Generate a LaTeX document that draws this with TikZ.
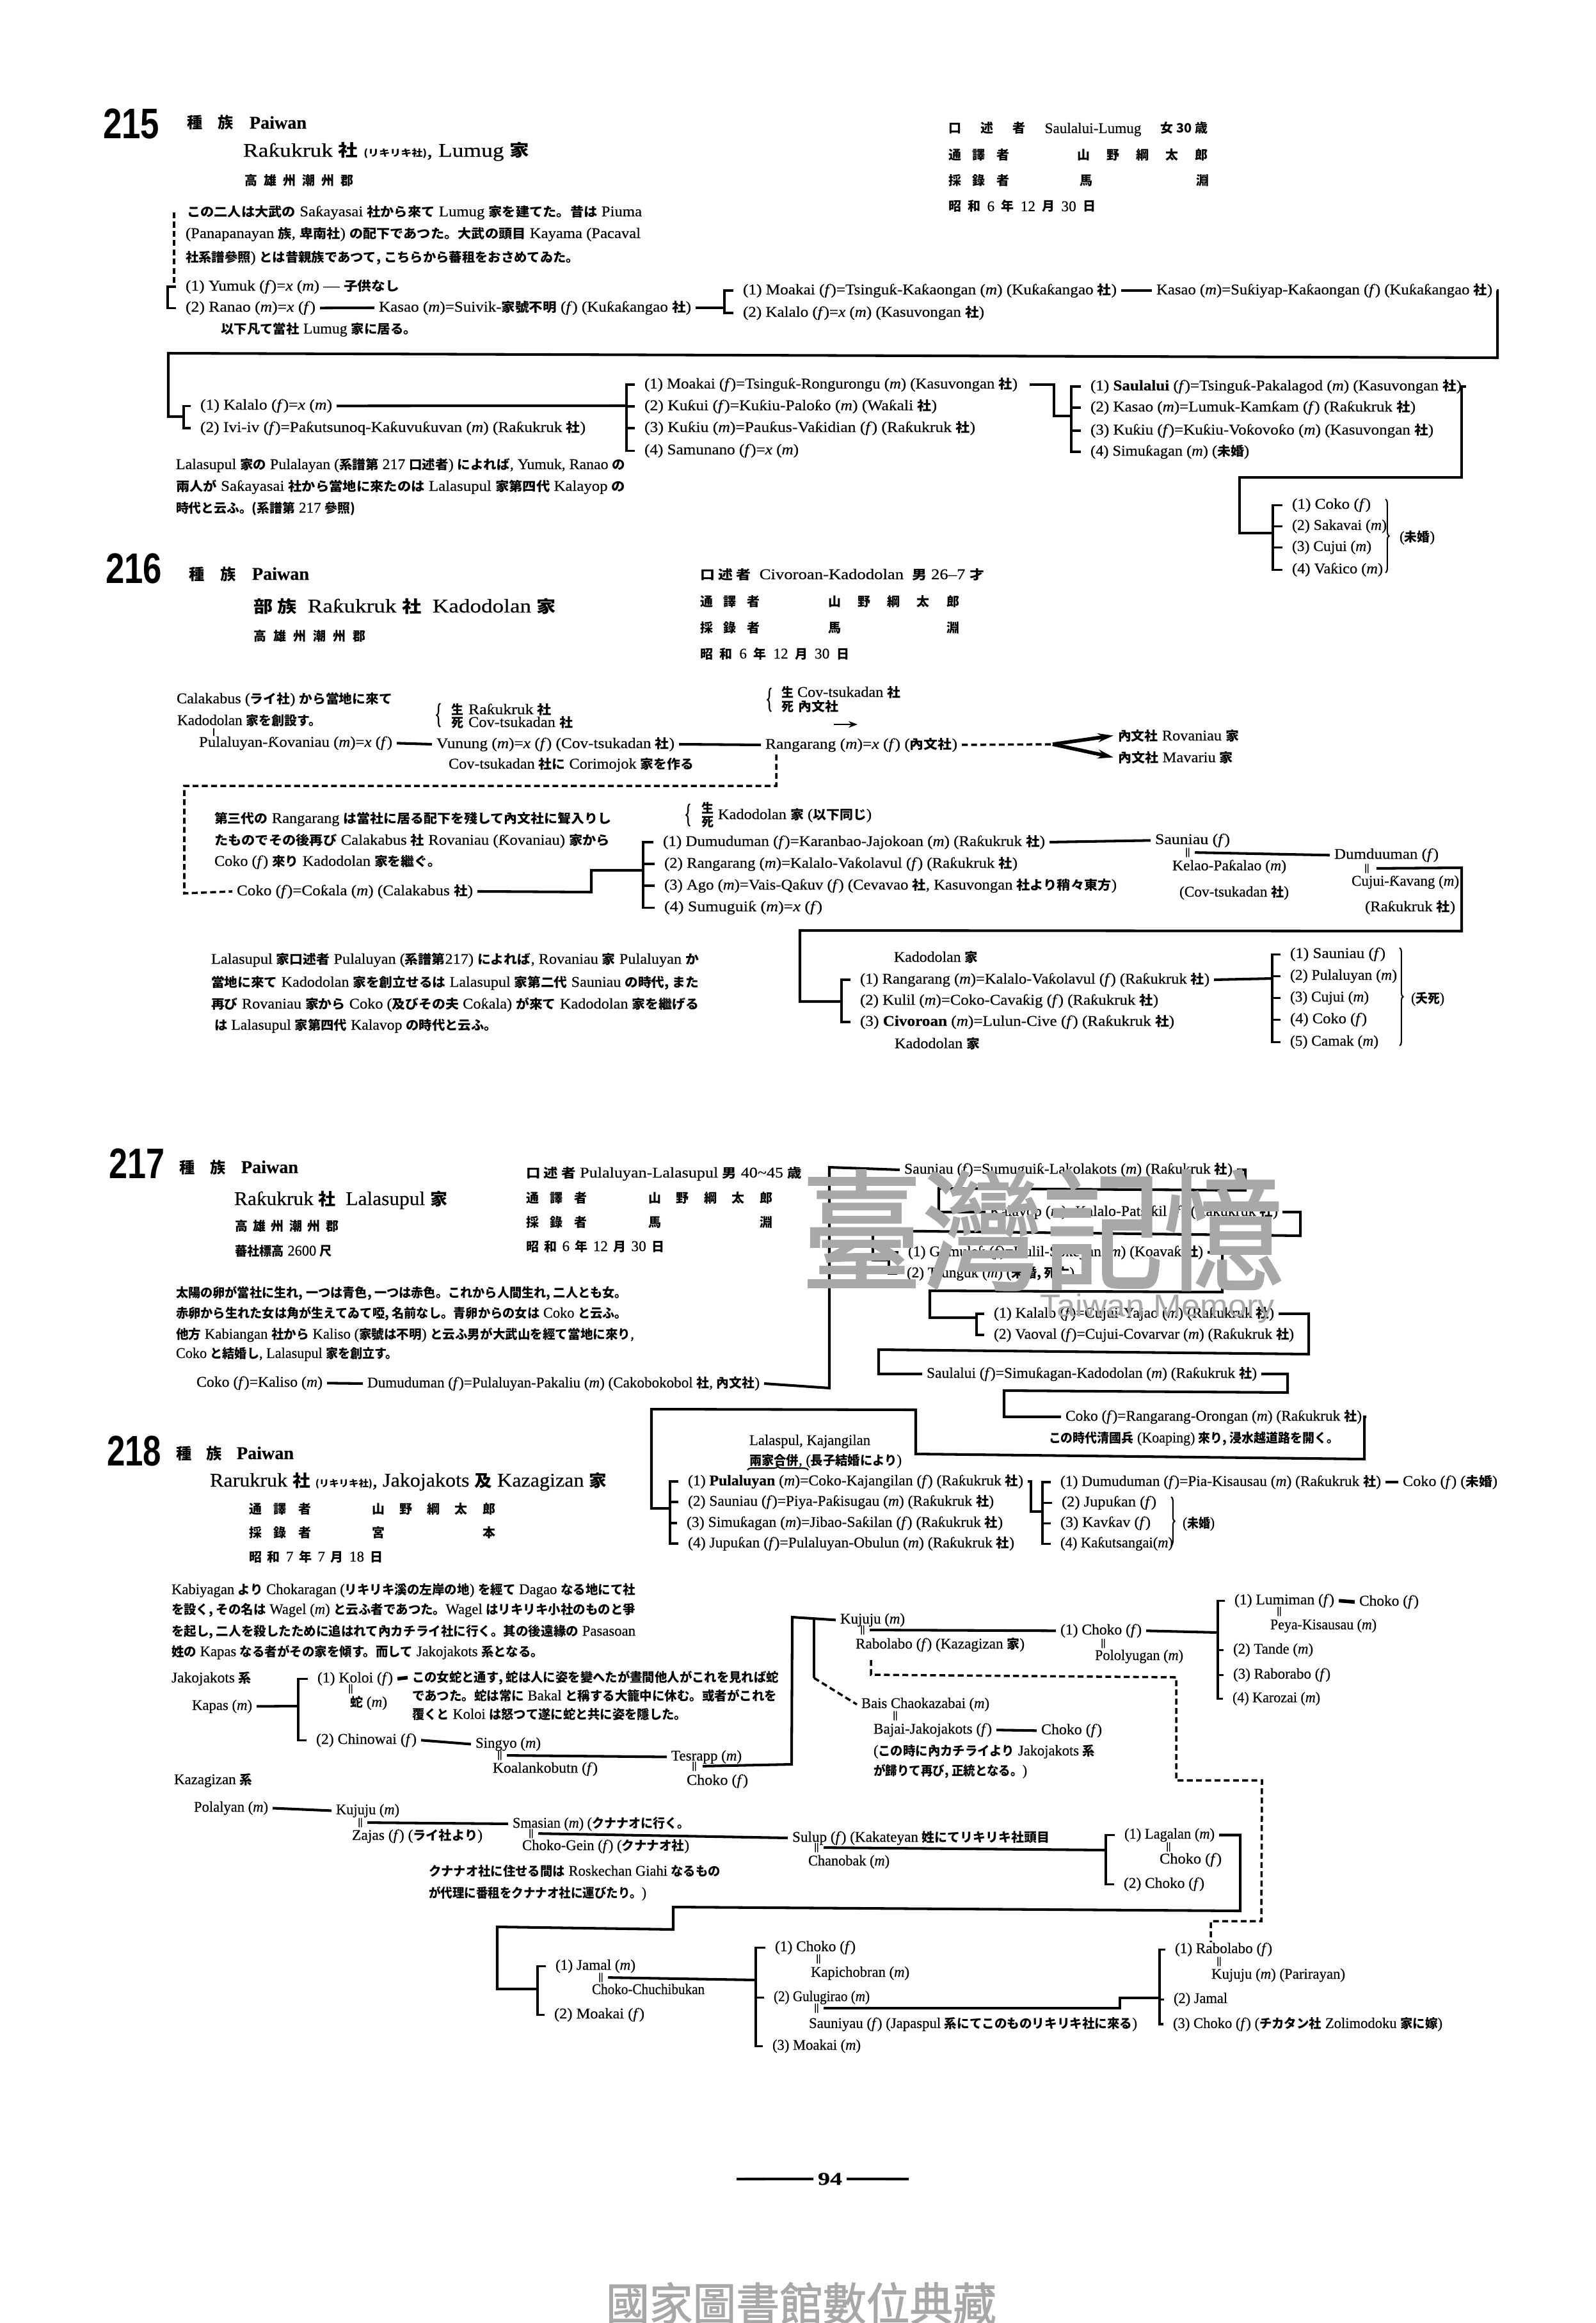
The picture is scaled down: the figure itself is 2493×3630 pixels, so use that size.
\documentclass[tikz,border=0pt]{standalone}
\usepackage{graphicx}
\usepackage{fontspec}
\usetikzlibrary{arrows.meta,decorations.pathreplacing}
\setmainfont{Liberation Serif}[FakeBold=0.5]
\newfontfamily\sansb{Liberation Sans}
\newfontfamily\cjf{Noto Sans CJK JP}[Scale=0.86]
\newfontfamily\cjw{Noto Sans CJK TC}[FakeBold=1.5]
\newcommand\cj[1]{{\cjf\bfseries #1}}
\newcommand\Fe{\textit{f}}
\newcommand\Ma{\textit{m}}
\newcommand\Xx{\textit{x}}
\newcommand\szA{\fontsize{6.6pt}{8pt}\selectfont}
\newcommand\szB{\fontsize{8.6pt}{10pt}\selectfont}
\newcommand\szC{\fontsize{8pt}{10pt}\selectfont}
\newcommand\szS{\fontsize{4.8pt}{6pt}\selectfont}
\newlength\pxl \setlength\pxl{0.01cm}
\definecolor{wm}{gray}{0.66}
\tikzset{
 lbl/.style={anchor=base west,inner sep=0pt,outer xsep=2pt,font=\szA,text=black},
 cn/.style={draw=black,line width=1.15pt},
 fromdbl/.style={cn,shorten <=2pt},
 brk/.style={draw=black,line width=.95pt,shorten <=2.2pt},
 dsh/.style={draw=black,line width=1pt,dash pattern=on 2.6pt off 1.5pt},
 brc/.style={draw=black,line width=.6pt,decorate,decoration={brace,amplitude=1.6pt}},
 dbl/.style={inner sep=0pt,font=\fontsize{4.5pt}{6pt}\selectfont\bfseries,text=black}
}
\newcommand\Tx[5]{\node[lbl] (#1) at (#2,{-(#3+8)}) {\resizebox{\dimexpr\numexpr#4-#2\relax\pxl\relax}{\height}{#5}};}
\newcommand\Tb[5]{\node[lbl,font=\szB] (#1) at (#2,{-(#3+10)}) {\resizebox{\dimexpr\numexpr#4-#2\relax\pxl\relax}{\height}{#5}};}
\newcommand\Ts[5]{\node[lbl] (#1) at (#2,{-(#3+8)}) {\makebox[\dimexpr\numexpr#4-#2\relax\pxl\relax][s]{#5}};}
\newcommand\HN[5]{\node[lbl,font=\sansb\bfseries\fontsize{19pt}{20pt}\selectfont] (#1) at (#2,{-(#3+24)}) {\resizebox{\dimexpr\numexpr#4-#2\relax\pxl\relax}{\height}{#5}};}
\newcommand\Hd[4]{\node[lbl,font=\szC] (#1) at (#2,{-(#3+9)}) {\makebox[\dimexpr\numexpr#4-#2\relax\pxl\relax][s]{\cj{種}\hfill\cj{族}\hfill\textbf{Paiwan}}};}
\newcommand\Dbl[3]{\node[dbl] (#1) at (#2,-#3) {||};}
\newcommand\Gao{\cj{高}\hfill\cj{雄}\hfill\cj{州}\hfill\cj{潮}\hfill\cj{州}\hfill\cj{郡}}
\newcommand\Yama{\cj{山}\hfill\cj{野}\hfill\cj{綱}\hfill\cj{太}\hfill\cj{郎}}
\newcommand\Br[4]{\coordinate (#1) at (#2,0);\draw[brk,shorten >=2.2pt] (#3.west) -- (#3.west -| #1) -- (#4.west -| #1) -- (#4.west);}
\newcommand\Tk[2]{\draw[brk] (#2.west) -- (#2.west -| #1);}
\begin{document}
\begin{tikzpicture}[x=0.01cm,y=0.01cm]
\useasboundingbox (0,0) rectangle (2493,-3630);
\fill[white] (0,0) rectangle (2493,-3630);
%% ---------------- 215
\HN{hA}{154}{192}{242}{215}
\Hd{pA}{285}{192}{472}
\Tb{tA}{373}{235}{820}{Raƙukruk \cj{社} {\szS\cj{(リキリキ社)}}, Lumug \cj{家}}
\Ts{gA}{375}{281}{545}{\Gao}
\Ts{ia1}{1475}{200}{1880}{\cj{口}\hfill\cj{述}\hfill\cj{者}\hfill Saulalui-Lumug\hfill\cj{女 30 歳}}
\Ts{ia2}{1475}{241}{1570}{\cj{通}\hfill\cj{譯}\hfill\cj{者}}
\Ts{ia3}{1676}{241}{1880}{\Yama}
\Ts{ia4}{1475}{282}{1570}{\cj{採}\hfill\cj{錄}\hfill\cj{者}}
\Ts{ia5}{1680}{282}{1882}{\cj{馬}\hfill\cj{淵}}
\Ts{ia6}{1475}{322}{1705}{\cj{昭}\hfill\cj{和}\hfill 6\hfill\cj{年}\hfill 12\hfill\cj{月}\hfill 30\hfill\cj{日}}
\Tx{pa1}{285}{330}{996}{\cj{この二人は大武の} Saƙayasai \cj{社から來て} Lumug \cj{家を建てた。昔は} Piuma}
\Tx{pa2}{283}{364}{994}{(Panapanayan \cj{族}, \cj{卑南社}) \cj{の配下であつた。大武の頭目} Kayama (Pacaval}
\Tx{pa3}{283}{401}{898}{\cj{社系譜參照}) \cj{とは昔親族であつて, こちらから蕃租をおさめてゐた。}}
\Tx{a1}{283}{446}{617}{(1) Yumuk (\Fe)=\Xx{} (\Ma) --- \cj{子供なし}}
\Tx{a2}{283}{479}{486}{(2) Ranao (\Ma)=\Xx{} (\Fe)}
\Tx{a3}{585}{479}{1073}{Kasao (\Ma)=Suivik-\cj{家號不明} (\Fe) (Kuƙaƙangao \cj{社})}
\Tx{a4}{338}{513}{644}{\cj{以下凡て當社} Lumug \cj{家に居る。}}
\Tx{a5}{1154}{452}{1738}{(1) Moakai (\Fe)=Tsinguƙ-Kaƙaongan (\Ma) (Kuƙaƙangao \cj{社})}
\Tx{a6}{1154}{487}{1531}{(2) Kalalo (\Fe)=\Xx{} (\Ma) (Kasuvongan \cj{社})}
\Tx{a7}{1800}{452}{2325}{Kasao (\Ma)=Suƙiyap-Kaƙaongan (\Fe) (Kuƙaƙangao \cj{社})}
\Tx{a8}{306}{632}{512}{(1) Kalalo (\Fe)=\Xx{} (\Ma)}
\Tx{a9}{306}{667}{908}{(2) Ivi-iv (\Fe)=Paƙutsunoq-Kaƙuvuƙuvan (\Ma) (Raƙukruk \cj{社})}
\Tx{a10}{1000}{599}{1583}{(1) Moakai (\Fe)=Tsinguƙ-Rongurongu (\Ma) (Kasuvongan \cj{社})}
\Tx{a11}{1000}{633}{1457}{(2) Kuƙui (\Fe)=Kuƙiu-Paloƙo (\Ma) (Waƙali \cj{社})}
\Tx{a12}{1000}{667}{1517}{(3) Kuƙiu (\Ma)=Pauƙus-Vaƙidian (\Fe) (Raƙukruk \cj{社})}
\Tx{a13}{1000}{702}{1241}{(4) Samunano (\Fe)=\Xx{} (\Ma)}
\Tx{a14}{1697}{602}{2277}{(1) \textbf{Saulalui} (\Fe)=Tsinguƙ-Pakalagod (\Ma) (Kasuvongan \cj{社})}
\Tx{a15}{1697}{635}{2205}{(2) Kasao (\Ma)=Lumuk-Kamƙam (\Fe) (Raƙukruk \cj{社})}
\Tx{a16}{1697}{671}{2233}{(3) Kuƙiu (\Fe)=Kuƙiu-Voƙovoƙo (\Ma) (Kasuvongan \cj{社})}
\Tx{a17}{1697}{704}{1945}{(4) Simuƙagan (\Ma) (\cj{未婚})}
\Tx{a18}{2012}{787}{2135}{(1) Coko (\Fe)}
\Tx{a19}{2012}{820}{2160}{(2) Sakavai (\Ma)}
\Tx{a20}{2012}{853}{2136}{(3) Cujui (\Ma)}
\Tx{a21}{2012}{888}{2154}{(4) Vaƙico (\Ma)}
\Tx{a22}{2180}{838}{2235}{(\cj{未婚})}
\Tx{pa4}{268}{725}{970}{Lalasupul \cj{家の} Pulalayan (\cj{系譜第} 217 \cj{口述者}) \cj{によれば}, Yumuk, Ranao \cj{の}}
\Tx{pa5}{268}{759}{970}{\cj{兩人が} Saƙayasai \cj{社から當地に來たのは} Lalasupul \cj{家第四代} Kalayop \cj{の}}
\Tx{pa6}{268}{793}{548}{\cj{時代と云ふ。(系譜第} 217 \cj{參照)}}
\coordinate (da0) at (272,-332); \coordinate (da1) at (272,-442);
\draw[dsh] (da0) -- (da1);
\Br{sa1}{262}{a1}{a2}
\draw[cn] (a2.east) -- (a3.west);
\Br{sa2}{1132}{a5}{a6}
\coordinate (ja2) at (1132,-472);
\draw[cn] (a3.east) -| (ja2);
\draw[cn] (a5.east) -- (a7.west);
\coordinate (ca1) at (2340,-559); \coordinate (ca2) at (263,-552); \coordinate (ca3) at (287,-651);
\draw[cn] (a7.east) -| (ca1) -- (ca2) |- (ca3);
\Br{sa3}{287}{a8}{a9}
\Br{sa4}{979}{a10}{a13}\Tk{sa4}{a11}\Tk{sa4}{a12}
\coordinate (ja4) at (979,-634);
\draw[cn] (a8.east) -- (ja4);
\Br{sa5}{1674}{a14}{a17}\Tk{sa5}{a15}\Tk{sa5}{a16}
\coordinate (ca4) at (1647,-650); \coordinate (ca5) at (1674,-650);
\draw[cn,shorten <=3.4pt] (a10.east) -| (ca4) -- (ca5);
\coordinate (ca6) at (2284,-746); \coordinate (ca7) at (1937,-746); \coordinate (ca8) at (1989,-833);
\draw[cn] (a14.east) -| (ca6) -- (ca7) |- (ca8);
\Br{sa6}{1989}{a18}{a21}\Tk{sa6}{a19}\Tk{sa6}{a20}
\coordinate (ba1) at (2165,-780); \coordinate (ba2) at (2165,-895);
\draw[brc] (ba1) -- (ba2);
%% ---------------- 216
\HN{hB}{158}{887}{246}{216}
\Hd{pB}{288}{897}{476}
\Tb{tB}{389}{947}{862}{\cj{部 族} \ Raƙukruk \cj{社} \ Kadodolan \cj{家}}
\Ts{gB}{389}{993}{564}{\Gao}
\Tx{ib1}{1087}{897}{1531}{\cj{口 述 者} \ Civoroan-Kadodolan \ \cj{男} 26--7 \cj{才}}
\Ts{ib2}{1087}{939}{1180}{\cj{通}\hfill\cj{譯}\hfill\cj{者}}
\Ts{ib3}{1287}{939}{1492}{\Yama}
\Ts{ib4}{1087}{980}{1180}{\cj{採}\hfill\cj{錄}\hfill\cj{者}}
\Ts{ib5}{1287}{980}{1492}{\cj{馬}\hfill\cj{淵}}
\Ts{ib6}{1087}{1021}{1320}{\cj{昭}\hfill\cj{和}\hfill 6\hfill\cj{年}\hfill 12\hfill\cj{月}\hfill 30\hfill\cj{日}}
\Tx{b1}{269}{1091}{606}{Calakabus (\cj{ライ社}) \cj{から當地に來て}}
\Tx{b2}{270}{1125}{495}{Kadodolan \cj{家を創設す。}}
\Tx{b3}{304}{1159}{606}{Pulaluyan-Ƙovaniau (\Ma)=\Xx{} (\Fe)}
\Tx{b4}{675}{1161}{1047}{Vunung (\Ma)=\Xx{} (\Fe) (Cov-tsukadan \cj{社})}
\Tx{b5}{1189}{1162}{1489}{Rangarang (\Ma)=\Xx{} (\Fe) (\cj{內文社})}
\Tx{b6}{698}{1108}{717}{\cj{生}}
\Tx{b7}{725}{1108}{855}{Raƙukruk \cj{社}}
\Tx{b8}{698}{1128}{717}{\cj{死}}
\Tx{b9}{725}{1128}{888}{Cov-tsukadan \cj{社}}
\Tx{b10}{694}{1193}{1077}{Cov-tsukadan \cj{社に} Corimojok \cj{家を作る}}
\Tx{b11}{1214}{1081}{1233}{\cj{生}}
\Tx{b12}{1239}{1081}{1400}{Cov-tsukadan \cj{社}}
\Tx{b13}{1214}{1103}{1233}{\cj{死}}
\Tx{b14}{1240}{1103}{1303}{\cj{內文社}}
\Tx{b15}{1740}{1149}{1929}{\cj{內文社} Rovaniau \cj{家}}
\Tx{b16}{1740}{1183}{1920}{\cj{內文社} Mavariu \cj{家}}
\Tx{pb1}{328}{1278}{948}{\cj{第三代の} Rangarang \cj{は當社に居る配下を殘して內文社に聟入りし}}
\Tx{pb2}{328}{1312}{946}{\cj{たものでその後再び} Calakabus \cj{社} Rovaniau (Ƙovaniau) \cj{家から}}
\Tx{pb3}{328}{1345}{682}{Coko (\Fe) \cj{來り} Kadodolan \cj{家を繼ぐ。}}
\Tx{b17}{363}{1391}{732}{Coko (\Fe)=Coƙala (\Ma) (Calakabus \cj{社})}
\Tx{b18}{1089}{1262}{1108}{\cj{生}}
\Tx{b19}{1089}{1283}{1108}{\cj{死}}
\Tx{b20}{1115}{1272}{1355}{Kadodolan \cj{家} (\cj{以下同じ})}
\Tx{b21}{1029}{1314}{1626}{(1) Dumuduman (\Fe)=Karanbao-Jajokoan (\Ma) (Raƙukruk \cj{社})}
\Tx{b22}{1031}{1348}{1583}{(2) Rangarang (\Ma)=Kalalo-Vaƙolavul (\Fe) (Raƙukruk \cj{社})}
\Tx{b23}{1031}{1382}{1738}{(3) Ago (\Ma)=Vais-Qaƙuv (\Fe) (Cevavao \cj{社}, Kasuvongan \cj{社より稍々東方})}
\Tx{b24}{1031}{1416}{1278}{(4) Sumuguiƙ (\Ma)=\Xx{} (\Fe)}
\Tx{b25}{1798}{1311}{1915}{Sauniau (\Fe)}
\Dbl{b26}{1856}{1332}
\Tx{b27}{1825}{1352}{2003}{Kelao-Paƙalao (\Ma)}
\Tx{b28}{1836}{1393}{2007}{(Cov-tsukadan \cj{社})}
\Tx{b29}{2078}{1334}{2241}{Dumduuman (\Fe)}
\Dbl{b30}{2136}{1357}
\Tx{b31}{2105}{1376}{2273}{Cujui-Ƙavang (\Ma)}
\Tx{b32}{2126}{1416}{2267}{(Raƙukruk \cj{社})}
\Tx{b33}{1390}{1495}{1521}{Kadodolan \cj{家}}
\Tx{b34}{1337}{1529}{1883}{(1) Rangarang (\Ma)=Kalalo-Vaƙolavul (\Fe) (Raƙukruk \cj{社})}
\Tx{b35}{1337}{1562}{1803}{(2) Kulil (\Ma)=Coko-Cavaƙig (\Fe) (Raƙukruk \cj{社})}
\Tx{b36}{1337}{1595}{1828}{(3) \textbf{Civoroan} (\Ma)=Lulun-Cive (\Fe) (Raƙukruk \cj{社})}
\Tx{b37}{1391}{1630}{1524}{Kadodolan \cj{家}}
\Tx{b38}{2009}{1489}{2158}{(1) Sauniau (\Fe)}
\Tx{b39}{2009}{1523}{2176}{(2) Pulaluyan (\Ma)}
\Tx{b40}{2009}{1557}{2132}{(3) Cujui (\Ma)}
\Tx{b41}{2009}{1591}{2129}{(4) Coko (\Fe)}
\Tx{b42}{2009}{1626}{2147}{(5) Camak (\Ma)}
\Tx{b43}{2198}{1559}{2250}{(\cj{夭死})}
\Tx{pb4}{323}{1498}{1085}{Lalasupul \cj{家口述者} Pulaluyan (\cj{系譜第}217) \cj{によれば}, Rovaniau \cj{家} Pulaluyan \cj{か}}
\Tx{pb5}{323}{1534}{1085}{\cj{當地に來て} Kadodolan \cj{家を創立せるは} Lalasupul \cj{家第二代} Sauniau \cj{の時代, また}}
\Tx{pb6}{323}{1568}{1085}{\cj{再び} Rovaniau \cj{家から} Coko (\cj{及びその夫} Coƙala) \cj{が來て} Kadodolan \cj{家を繼げる}}
\Tx{pb7}{328}{1601}{770}{\cj{は} Lalasupul \cj{家第四代} Kalavop \cj{の時代と云ふ。}}
\coordinate (db0) at (334,-1138);
\draw[line width=.5pt] (db0) -- (b3.north -| db0);
\draw[cn] (b3.east) -- (b4.west);
\draw[cn] (b4.east) -- (b5.west);
\coordinate (bb1a) at (688,-1099); \coordinate (bb1b) at (688,-1136);
\draw[brc] (bb1b) -- (bb1a);
\coordinate (bb2a) at (1205,-1075); \coordinate (bb2b) at (1205,-1112);
\draw[brc] (bb2b) -- (bb2a);
\coordinate (bb3a) at (1078,-1256); \coordinate (bb3b) at (1078,-1291);
\draw[brc] (bb3b) -- (bb3a);
\coordinate (ar0) at (1303,-1132); \coordinate (ar1) at (1340,-1132);
\draw[-{Stealth[length=4pt]},line width=.5pt] (ar0) -- (ar1);
\coordinate (fk) at (1645,-1163);
\draw[dsh] (b5.east) -- (fk);
\draw[-{Stealth[length=7pt,width=4pt]},line width=1.6pt] (fk) -- (b15.west);
\draw[-{Stealth[length=7pt,width=4pt]},line width=1.6pt] (fk) -- (b16.west);
\coordinate (db1) at (1213,-1228); \coordinate (db3) at (288,-1228); \coordinate (db4) at (288,-1396);
\draw[dsh,shorten <=1pt] (b5.south -| db1) -- (db1) -- (db3) -- (db4) -- (b17.west);
\Br{sb1}{1005}{b21}{b24}\Tk{sb1}{b22}\Tk{sb1}{b23}
\coordinate (cb1) at (924,-1394); \coordinate (cb2) at (1005,-1360);
\draw[cn] (b17.east) -- (cb1) |- (cb2);
\draw[cn] (b21.east) -- (b25.west);
\draw[fromdbl] (b26.east) -- (b29.west);
\coordinate (cb5) at (2284,-1356); \coordinate (cb6) at (2284,-1455); \coordinate (cb7) at (1250,-1454); \coordinate (cb8) at (1315,-1565);
\draw[cn,shorten <=3pt] (b30.east) -- (cb5) -- (cb6) -- (cb7) |- (cb8);
\Br{sb2}{1315}{b34}{b36}
\Br{sb3}{1988}{b38}{b42}\Tk{sb3}{b39}\Tk{sb3}{b40}\Tk{sb3}{b41}
\coordinate (cb9) at (1988,-1529);
\draw[cn] (b34.east) -- (cb9);
\coordinate (bb4a) at (2187,-1481); \coordinate (bb4b) at (2187,-1634);
\draw[brc] (bb4a) -- (bb4b);
%% ---------------- 217
\HN{hC}{163}{1817}{250}{217}
\Hd{pC}{273}{1824}{459}
\Tb{tC}{359}{1873}{692}{Raƙukruk \cj{社} \ Lalasupul \cj{家}}
\Ts{gC}{360}{1915}{522}{\Gao}
\Tx{gC2}{360}{1954}{512}{\cj{蕃社標高} 2600 \cj{尺}}
\Tx{ic1}{815}{1832}{1246}{\cj{口 述 者} Pulaluyan-Lalasupul \cj{男} 40\textasciitilde 45 \cj{歳}}
\Ts{ic2}{815}{1871}{910}{\cj{通}\hfill\cj{譯}\hfill\cj{者}}
\Ts{ic3}{1006}{1871}{1200}{\Yama}
\Ts{ic4}{815}{1909}{910}{\cj{採}\hfill\cj{錄}\hfill\cj{者}}
\Ts{ic5}{1006}{1909}{1200}{\cj{馬}\hfill\cj{淵}}
\Ts{ic6}{815}{1947}{1031}{\cj{昭}\hfill\cj{和}\hfill 6\hfill\cj{年}\hfill 12\hfill\cj{月}\hfill 30\hfill\cj{日}}
\Tx{pc1}{268}{2019}{973}{\cj{太陽の卵が當社に生れ, 一つは青色, 一つは赤色。これから人間生れ, 二人とも女。}}
\Tx{pc2}{268}{2051}{973}{\cj{赤卵から生れた女は角が生えてゐて啞, 名前なし。青卵からの女は} Coko \cj{と云ふ。}}
\Tx{pc3}{268}{2084}{984}{\cj{他方} Kabiangan \cj{社から} Kaliso (\cj{家號は不明}) \cj{と云ふ男が大武山を經て當地に來り},}
\Tx{pc4}{268}{2114}{615}{Coko \cj{と結婚し}, Lalasupul \cj{家を創立す。}}
\Tx{c1}{300}{2159}{497}{Coko (\Fe)=Kaliso (\Ma)}
\Tx{c2}{567}{2160}{1180}{Dumuduman (\Fe)=Pulaluyan-Pakaliu (\Ma) (Cakobokobol \cj{社}, \cj{內文社})}
\Tx{c3}{1406}{1826}{1919}{Sauniau (\Fe)=Sumuguiƙ-Lakolakots (\Ma) (Raƙukruk \cj{社})}
\Tx{c4}{1540}{1892}{1990}{Kalayop (\Ma)=Kalalo-Patsiƙil (\Fe) (Raƙukruk \cj{社})}
\Tx{c5}{1412}{1955}{1873}{(1) Gumuleƙ (\Fe)=Kulil-Soƙeyan (\Ma) (Koavaƙ \cj{社})}
\Tx{c6}{1410}{1988}{1672}{(2) Tsunguƙ (\Ma) (\cj{未婚, 死亡})}
\Tx{c7}{1546}{2051}{1984}{(1) Kalalo (\Fe)=Cujui-Yajao (\Ma) (Raƙukruk \cj{社})}
\Tx{c8}{1546}{2084}{2015}{(2) Vaoval (\Fe)=Cujui-Covarvar (\Ma) (Raƙukruk \cj{社})}
\Tx{c9}{1441}{2145}{1957}{Saulalui (\Fe)=Simuƙagan-Kadodolan (\Ma) (Raƙukruk \cj{社})}
\Tx{c10}{1658}{2212}{2121}{Coko (\Fe)=Rangarang-Orongan (\Ma) (Raƙukruk \cj{社})}
\Tx{c11}{1632}{2246}{2085}{\cj{この時代清國兵} (Koaping) \cj{來り, 浸水越道路を開く。}}
\Tx{c12}{1164}{2250}{1353}{Lalaspul, Kajangilan}
\Tx{c13}{1164}{2281}{1402}{\cj{兩家合併}, (\cj{長子結婚により})}
\Tx{c14}{1068}{2313}{1592}{(1) \textbf{Pulaluyan} (\Ma)=Coko-Kajangilan (\Fe) (Raƙukruk \cj{社})}
\Tx{c15}{1068}{2345}{1546}{(2) Sauniau (\Fe)=Piya-Paƙisugau (\Ma) (Raƙukruk \cj{社})}
\Tx{c16}{1066}{2378}{1560}{(3) Simuƙagan (\Ma)=Jibao-Saƙilan (\Fe) (Raƙukruk \cj{社})}
\Tx{c17}{1068}{2410}{1578}{(4) Jupuƙan (\Fe)=Pulaluyan-Obulun (\Ma) (Raƙukruk \cj{社})}
\Tx{c18}{1650}{2314}{2151}{(1) Dumuduman (\Fe)=Pia-Kisausau (\Ma) (Raƙukruk \cj{社})}
\Tx{c19}{2185}{2314}{2333}{Coko (\Fe) (\cj{未婚})}
\Tx{c20}{1652}{2346}{1800}{(2) Jupuƙan (\Fe)}
\Tx{c21}{1650}{2378}{1791}{(3) Kavƙav (\Fe)}
\Tx{c22}{1650}{2410}{1826}{(4) Kaƙutsangai(\Ma)}
\Tx{c23}{1841}{2379}{1891}{(\cj{未婚})}
\draw[cn] (c1.east) -- (c2.west);
\coordinate (cc1) at (1296,-2169); \coordinate (cc2) at (1296,-1824);
\draw[cn] (c2.east) -- (cc1) -- (cc2) -- (c3.west);
\coordinate (cc3) at (1946,-1860); \coordinate (cc4) at (1467,-1857);
\draw[cn] (c3.east) -| (cc3) -- (cc4) |- (c4.west);
\coordinate (cc5) at (2032,-1931); \coordinate (cc6) at (1364,-1923); \coordinate (cc7) at (1389,-1969);
\draw[cn] (c4.east) -| (cc5) -- (cc6) |- (cc7);
\Br{sc1}{1389}{c5}{c6}
\coordinate (cc8) at (1910,-2019); \coordinate (cc9) at (1453,-2017); \coordinate (cc10) at (1526,-2059);
\draw[cn] (c5.east) -| (cc8) -- (cc9) |- (cc10);
\Br{sc2}{1526}{c7}{c8}
\coordinate (cc11) at (2045,-2116); \coordinate (cc12) at (1373,-2109);
\draw[cn] (c7.east) -| (cc11) -- (cc12) |- (c9.west);
\coordinate (cc13) at (2012,-2176); \coordinate (cc14) at (1569,-2173);
\draw[cn] (c9.east) -| (cc13) -- (cc14) |- (c10.west);
\coordinate (cc15) at (2132,-2280); \coordinate (cc16) at (1431,-2272); \coordinate (cc17) at (1431,-2203); \coordinate (cc18) at (1018,-2202); \coordinate (cc19) at (1047,-2357);
\draw[cn] (c10.east) -| (cc15) -- (cc16) -- (cc17) -- (cc18) |- (cc19);
\Br{sc3}{1047}{c14}{c17}\Tk{sc3}{c15}\Tk{sc3}{c16}
\coordinate (cc20) at (1611,-2316); \coordinate (cc21) at (1629,-2362);
\draw[cn] (c14.east) -| (cc20) |- (cc21);
\Br{sc4}{1629}{c18}{c22}\Tk{sc4}{c20}\Tk{sc4}{c21}
\draw[cn] (c18.east) -- (c19.west);
\coordinate (bc1a) at (1830,-2339); \coordinate (bc1b) at (1830,-2415);
\draw[brc] (bc1a) -- (bc1b);
\coordinate (bc2a) at (1168,-2297); \coordinate (bc2b) at (1263,-2297);
\draw[brc] (bc2a) -- (bc2b);
%% ---------------- 218
\HN{hD}{160}{2266}{245}{218}
\Hd{pD}{268}{2271}{452}
\Tb{tD}{321}{2313}{941}{Rarukruk \cj{社} {\szS\cj{(リキリキ社)}}, Jakojakots \cj{及} Kazagizan \cj{家}}
\Ts{id1}{382}{2357}{479}{\cj{通}\hfill\cj{譯}\hfill\cj{者}}
\Ts{id2}{574}{2357}{767}{\Yama}
\Ts{id3}{382}{2394}{479}{\cj{採}\hfill\cj{錄}\hfill\cj{者}}
\Ts{id4}{574}{2394}{767}{\cj{宮}\hfill\cj{本}}
\Ts{id5}{382}{2432}{591}{\cj{昭}\hfill\cj{和}\hfill 7\hfill\cj{年}\hfill 7\hfill\cj{月}\hfill 18\hfill\cj{日}}
\Tx{pd1}{261}{2483}{986}{Kabiyagan \cj{より} Chokaragan (\cj{リキリキ溪の左岸の地}) \cj{を經て} Dagao \cj{なる地にて社}}
\Tx{pd2}{261}{2514}{986}{\cj{を設く, その名は} Wagel (\Ma) \cj{と云ふ者であつた。}Wagel \cj{はリキリキ小社のものと爭}}
\Tx{pd3}{261}{2548}{986}{\cj{を起し, 二人を殺したために追はれて內カチライ社に行く。其の後遠緣の} Pasasoan}
\Tx{pd4}{261}{2580}{842}{\cj{姓の} Kapas \cj{なる者がその家を傾す。而して} Jakojakots \cj{系となる。}}
\Tx{d1}{261}{2621}{386}{Jakojakots \cj{系}}
\Tx{d2}{293}{2664}{387}{Kapas (\Ma)}
\Tx{d3}{489}{2621}{607}{(1) Koloi (\Fe)}
\Dbl{d4}{548}{2639}
\Tx{d5}{540}{2659}{598}{\cj{蛇} (\Ma)}
\Tx{d6}{637}{2620}{1210}{\cj{この女蛇と通す, 蛇は人に姿を變へたが晝間他人がこれを見れば蛇}}
\Tx{d7}{637}{2649}{1207}{\cj{であつた。蛇は常に} Bakal \cj{と稱する大籠中に休む。或者がこれを}}
\Tx{d8}{637}{2678}{1066}{\cj{覆くと} Koloi \cj{は怒つて遂に蛇と共に姿を隱した。}}
\Tx{d9}{487}{2717}{644}{(2) Chinowai (\Fe)}
\Tx{d10}{736}{2723}{838}{Singyo (\Ma)}
\Dbl{d11}{781}{2743}
\Tx{d12}{763}{2762}{927}{Koalankobutn (\Fe)}
\Tx{d13}{1042}{2743}{1152}{Tesrapp (\Ma)}
\Dbl{d14}{1085}{2760}
\Tx{d15}{1066}{2781}{1162}{Choko (\Fe)}
\Tx{d16}{1306}{2529}{1407}{Kujuju (\Ma)}
\Dbl{d17}{1348}{2547}
\Tx{d18}{1330}{2568}{1594}{Rabolabo (\Fe) (Kazagizan \cj{家})}
\Tx{d19}{1650}{2546}{1777}{(1) Choko (\Fe)}
\Dbl{d20}{1724}{2568}
\Tx{d21}{1704}{2586}{1842}{Pololyugan (\Ma)}
\Tx{d22}{1922}{2499}{2078}{(1) Lumiman (\Fe)}
\Tx{d23}{2117}{2501}{2210}{Choko (\Fe)}
\Dbl{d24}{1999}{2518}
\Tx{d25}{1978}{2538}{2144}{Peya-Kisausau (\Ma)}
\Tx{d26}{1920}{2576}{2045}{(2) Tande (\Ma)}
\Tx{d27}{1920}{2615}{2072}{(3) Raborabo (\Fe)}
\Tx{d28}{1919}{2652}{2056}{(4) Karozai (\Ma)}
\Tx{d29}{1339}{2661}{1539}{Bais Chaokazabai (\Ma)}
\Dbl{d30}{1399}{2681}
\Tx{d31}{1358}{2701}{1543}{Bajai-Jakojakots (\Fe)}
\Tx{d32}{1620}{2702}{1715}{Choko (\Fe)}
\Tx{d33}{1358}{2735}{1704}{(\cj{この時に內カチライより} Jakojakots \cj{系}}
\Tx{d34}{1358}{2766}{1598}{\cj{が歸りて再び, 正統となる。})}
\Tx{d35}{265}{2780}{387}{Kazagizan \cj{系}}
\Tx{d36}{296}{2823}{412}{Polalyan (\Ma)}
\Tx{d37}{518}{2827}{617}{Kujuju (\Ma)}
\Dbl{d38}{563}{2848}
\Tx{d39}{543}{2867}{747}{Zajas (\Fe) (\cj{ライ社より})}
\Tx{d40}{794}{2848}{1070}{Smasian (\Ma) (\cj{クナナオに行く。}}
\Dbl{d41}{830}{2865}
\Tx{d42}{809}{2883}{1070}{Choko-Gein (\Fe) (\cj{クナナオ社})}
\Tx{d43}{1231}{2870}{1633}{Sulup (\Fe) (Kakateyan \cj{姓にてリキリキ社頭目}}
\Dbl{d44}{1276}{2887}
\Tx{d45}{1256}{2907}{1383}{Chanobak (\Ma)}
\Tx{d46}{1750}{2865}{1891}{(1) Lagalan (\Ma)}
\Dbl{d47}{1826}{2886}
\Tx{d48}{1805}{2904}{1902}{Choko (\Fe)}
\Tx{d49}{1749}{2942}{1875}{(2) Choko (\Fe)}
\Tx{d50}{663}{2923}{1119}{\cj{クナナオ社に住せる間は} Roskechan Giahi \cj{なるもの}}
\Tx{d51}{663}{2957}{1003}{\cj{が代理に番租をクナナオ社に運びたり。})}
\Tx{d52}{861}{3070}{986}{(1) Jamal (\Ma)}
\Dbl{d53}{939}{3090}
\Tx{d54}{918}{3108}{1094}{Choko-Chuchibukan}
\Tx{d55}{859}{3146}{1000}{(2) Moakai (\Fe)}
\Tx{d56}{1204}{3041}{1330}{(1) Choko (\Fe)}
\Dbl{d57}{1279}{3061}
\Tx{d58}{1260}{3081}{1414}{Kapichobran (\Ma)}
\Tx{d59}{1202}{3119}{1352}{(2) Gulugirao (\Ma)}
\Dbl{d60}{1276}{3138}
\Tx{d61}{1257}{3161}{1770}{Sauniyau (\Fe) (Japaspul \cj{系にてこのものリキリキ社に來る})}
\Tx{d62}{1200}{3195}{1338}{(3) Moakai (\Ma)}
\Tx{d63}{1829}{3044}{1981}{(1) Rabolabo (\Fe)}
\Dbl{d64}{1905}{3065}
\Tx{d65}{1886}{3084}{2095}{Kujuju (\Ma) (Parirayan)}
\Tx{d66}{1827}{3122}{1911}{(2) Jamal}
\Tx{d67}{1826}{3161}{2247}{(3) Choko (\Fe) (\cj{チカタン社} Zolimodoku \cj{家に嫁})}
\Br{sd1}{466}{d3}{d9}
\coordinate (jd1) at (466,-2666);
\draw[cn] (d2.east) -- (jd1);
\draw[line width=1.6pt] (d3.east) -- (d6.west);
\draw[cn] (d9.east) -- (d10.west);
\draw[fromdbl] (d11.east) -- (d13.west);
\coordinate (cd3) at (1237,-2757); \coordinate (cd4) at (1238,-2527);
\draw[cn,shorten <=2.5pt] (d14.east) -- (cd3) -- (cd4) -- (d16.west);
\coordinate (cd5) at (1272,-2529); \coordinate (cd6) at (1272,-2622);
\draw[cn] (cd5) -- (cd6);
\draw[dsh] (cd6) -- (d29.west);
\draw[fromdbl] (d17.east) -- (d19.west);
\Br{sd2}{1903}{d22}{d28}\Tk{sd2}{d26}\Tk{sd2}{d27}
\coordinate (jd2) at (1903,-2551);
\draw[cn] (d19.east) -- (jd2);
\draw[line width=1.6pt] (d22.east) -- (d23.west);
\draw[cn] (d31.east) -- (d32.west);
\coordinate (de1) at (1361,-2594); \coordinate (de2) at (1361,-2617); \coordinate (de3) at (1838,-2621); \coordinate (de4) at (1838,-2782); \coordinate (de5) at (1972,-2782); \coordinate (de6) at (1971,-3002); \coordinate (de7) at (1892,-3002);
\draw[dsh] (de1) -- (de2) -- (de3) -- (de4) -- (de5) -- (de6) -- (de7) -- (d63.north -| de7);
\draw[cn] (d36.east) -- (d37.west);
\draw[fromdbl] (d38.east) -- (d40.west);
\draw[fromdbl] (d41.east) -- (d43.west);
\coordinate (jd3) at (1728,-2891);
\draw[fromdbl] (d44.east) -- (jd3);
\Br{sd3}{1728}{d46}{d49}
\coordinate (cd11) at (1938,-2986); \coordinate (cd12) at (1052,-2980); \coordinate (cd13) at (1052,-3015); \coordinate (cd14) at (777,-3011); \coordinate (cd15) at (840,-3108);
\draw[cn] (d46.east) -| (cd11) -- (cd12) -- (cd13) -- (cd14) |- (cd15);
\Br{sd4}{840}{d52}{d55}
\coordinate (jd4) at (1181,-3094);
\draw[fromdbl] (d53.east) -- (jd4);
\Br{sd5}{1181}{d56}{d62}\Tk{sd5}{d59}
\coordinate (cd18) at (1750,-3138); \coordinate (cd19) at (1812,-3122);
\draw[fromdbl] (d60.east) -- (cd18) |- (cd19);
\Br{sd6}{1812}{d63}{d67}\Tk{sd6}{d66}
%% ---------------- page number
\node[lbl,font=\szC\bfseries] (pg) at (1271,-3414) {\resizebox{38\pxl}{\height}{94}};
\coordinate (pl1) at (1151,-3405); \coordinate (pl2) at (1420,-3405);
\draw[cn] (pl1) -- (pg.west);
\draw[cn] (pg.east) -- (pl2);
%% ---------------- watermarks
\node[lbl,font=\cjw\fontsize{58pt}{60pt}\selectfont,text=wm] (wm1) at (1245,-2000) {\resizebox{755\pxl}{\height}{臺灣記憶}};
\node[lbl,font=\sansb\fontsize{14pt}{16pt}\selectfont,text=wm] (wm2) at (1618,-2057) {\resizebox{367\pxl}{\height}{Taiwan Memory}};
\node[lbl,font=\cjw\fontsize{20pt}{22pt}\selectfont,text=wm] (wm3) at (940,-3626) {\resizebox{610\pxl}{\height}{國家圖書館數位典藏}};
\end{tikzpicture}
\end{document}
